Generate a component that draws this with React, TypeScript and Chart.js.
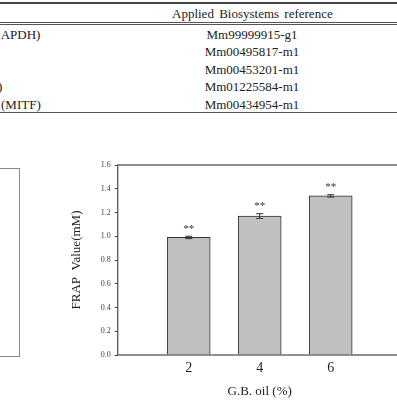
import React, { useEffect, useRef } from "react";
import { Chart, registerables } from "chart.js";

Chart.register(...registerables);

const doses = [2, 4, 6];
const frapValues = [0.99, 1.17, 1.34];
const frapErrors = [0.01, 0.02, 0.01];
const starLabels = ["**", "**", "**"];
const yTicks = [0, 0.2, 0.4, 0.6, 0.8, 1.0, 1.2, 1.4, 1.6];

const tableLeft = ["(GAPDH)", ")", "(MITF)"];
const tableCodes = ["Mm99999915-g1", "Mm00495817-m1", "Mm00453201-m1", "Mm01225584-m1", "Mm00434954-m1"];

const SERIF = "'Liberation Serif', 'Times New Roman', serif";

const framePlugin = {
  id: "frameAndErrors",
  afterDatasetsDraw(chart: any) {
    const { ctx, chartArea, scales } = chart;
    const ys = scales.y;
    ctx.save();
    ctx.strokeStyle = "#555";
    ctx.lineWidth = 1.3;
    ctx.strokeRect(chartArea.left, chartArea.top, chartArea.right - chartArea.left, chartArea.bottom - chartArea.top);
    const meta = chart.getDatasetMeta(0);
    meta.data.forEach((el: any, i: number) => {
      const v = frapValues[i];
      const e = frapErrors[i];
      const yt = ys.getPixelForValue(v + e);
      const yb = ys.getPixelForValue(v - e);
      ctx.strokeStyle = "#333";
      ctx.lineWidth = 1;
      ctx.beginPath();
      ctx.moveTo(el.x, yt);
      ctx.lineTo(el.x, yb);
      ctx.moveTo(el.x - 3.5, yt);
      ctx.lineTo(el.x + 3.5, yt);
      ctx.moveTo(el.x - 3.5, yb);
      ctx.lineTo(el.x + 3.5, yb);
      ctx.stroke();
      ctx.fillStyle = "#333";
      ctx.font = `11px ${SERIF}`;
      ctx.textAlign = "center";
      ctx.textBaseline = "alphabetic";
      ctx.fillText(starLabels[i], el.x, yt - 4.5);
    });
    ctx.restore();
  },
};

export default function App() {
  const ref = useRef<HTMLCanvasElement>(null);
  useEffect(() => {
    if (!ref.current) return;
    const chart = new Chart(ref.current, {
      type: "bar",
      data: {
        datasets: [
          {
            data: doses.map((d, i) => ({ x: d, y: frapValues[i] })),
            backgroundColor: "#c0c0c0",
            borderColor: "#333",
            borderWidth: 1,
            barThickness: 43,
          },
        ],
      },
      options: {
        animation: false,
        responsive: false,
        maintainAspectRatio: false,
        layout: { padding: { left: 69, top: 25, right: 8.3, bottom: 0 } },
        plugins: { legend: { display: false }, tooltip: { enabled: false } },
        scales: {
          x: {
            type: "linear",
            min: 0,
            max: 8,
            offset: false,
            grid: { display: false, drawTicks: false },
            border: { display: false },
            afterBuildTicks: (s: any) => {
              s.ticks = doses.map((d) => ({ value: d }));
            },
            afterFit: (s: any) => {
              s.height = 48;
            },
            ticks: {
              padding: 5,
              color: "#222",
              font: { family: SERIF, size: 14 },
              callback: (v: any) => String(v),
            },
            title: {
              display: true,
              text: "G.B. oil (%)",
              color: "#222",
              font: { family: SERIF, size: 13 },
              padding: { top: 0, bottom: 3.5 },
            },
          },
          y: {
            min: 0,
            max: 1.6,
            afterBuildTicks: (s: any) => {
              s.ticks = yTicks.map((v) => ({ value: v }));
            },
            afterFit: (s: any) => {
              s.width = 48.7;
            },
            grid: { display: true, drawOnChartArea: false, drawTicks: true, tickLength: 3, color: "#444" },
            border: { display: false },
            ticks: {
              padding: 4,
              color: "#444",
              font: { family: SERIF, size: 8 },
              callback: (v: any) => Number(v).toFixed(1),
            },
            title: {
              display: true,
              text: "FRAP  Value(mM)",
              color: "#222",
              font: { family: SERIF, size: 13 },
              padding: 0,
            },
          },
        },
      },
      plugins: [framePlugin],
    });
    return () => chart.destroy();
  }, []);

  const rowY = [35, 52, 70, 87, 105];
  return (
    <div
      style={{
        position: "fixed",
        left: 0,
        top: 0,
        width: 397,
        height: 403,
        overflow: "hidden",
        background: "#fff",
        fontFamily: SERIF,
        color: "#222",
      }}
    >
      <div style={{ position: "absolute", left: 0, top: 2, width: 397, height: 1.5, background: "#444" }} />
      <div
        style={{
          position: "absolute",
          left: 0,
          width: 397,
          top: 6,
          textAlign: "center",
          fontSize: 13,
          lineHeight: "16px",
          wordSpacing: 2,
          paddingLeft: 106,
          boxSizing: "border-box",
        }}
      >
        <span style={{ position: "absolute", left: 172, whiteSpace: "nowrap" }}>Applied Biosystems reference</span>
      </div>
      <div style={{ position: "absolute", left: 0, top: 21.5, width: 397, height: 1, background: "#555" }} />
      <div style={{ position: "absolute", left: 0, top: 23.5, width: 397, height: 1, background: "#555" }} />
      <span style={{ position: "absolute", left: -13, top: rowY[0] - 9, fontSize: 13, lineHeight: "18px", whiteSpace: "nowrap" }}>{tableLeft[0]}</span>
      <span style={{ position: "absolute", left: -2, top: rowY[3] - 9, fontSize: 13, lineHeight: "18px", whiteSpace: "nowrap" }}>{tableLeft[1]}</span>
      <span style={{ position: "absolute", left: 1, top: rowY[4] - 9, fontSize: 13, lineHeight: "18px", whiteSpace: "nowrap" }}>{tableLeft[2]}</span>
      {tableCodes.map((c, i) => (
        <span
          key={c}
          style={{
            position: "absolute",
            left: 202,
            width: 100,
            textAlign: "center",
            top: rowY[i] - 9,
            fontSize: 13,
            lineHeight: "18px",
            whiteSpace: "nowrap",
          }}
        >
          {c}
        </span>
      ))}
      <div style={{ position: "absolute", left: 0, top: 111.5, width: 397, height: 1, background: "#555" }} />
      <div
        style={{
          position: "absolute",
          left: -2,
          top: 168,
          width: 20,
          height: 187,
          border: "1px solid #888",
        }}
      />
      <canvas ref={ref} width={410} height={263} style={{ position: "absolute", left: 0, top: 140, width: 410, height: 263 }} />
    </div>
  );
}
